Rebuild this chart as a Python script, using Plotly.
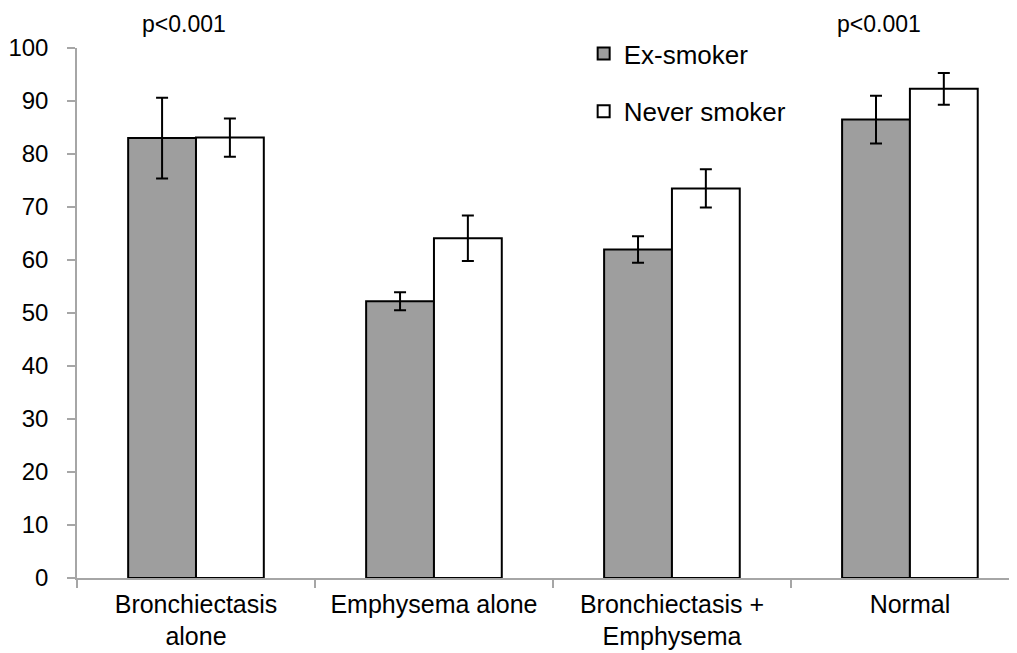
import plotly.graph_objects as go

categories = ["Bronchiectasis<br>alone", "Emphysema alone", "Bronchiectasis +<br>Emphysema", "Normal"]
ex_smoker = [83.0, 52.2, 62.0, 86.5]
ex_err = [7.6, 1.7, 2.5, 4.5]
never_smoker = [83.1, 64.1, 73.5, 92.3]
never_err = [3.6, 4.3, 3.6, 3.0]
p_labels = ["p<0.001", "p<0.001"]

FONT = "Liberation Sans, Arial, sans-serif"

fig = go.Figure()
fig.add_trace(go.Bar(
    name="Ex-smoker", x=categories, y=ex_smoker,
    marker=dict(color="#9e9e9e", line=dict(color="black", width=2)),
    error_y=dict(type="data", array=ex_err, color="black", thickness=2, width=6),
    legendgroup="a",
))
fig.add_trace(go.Bar(
    name="Never smoker", x=categories, y=never_smoker,
    marker=dict(color="white", line=dict(color="black", width=2)),
    error_y=dict(type="data", array=never_err, color="black", thickness=2, width=6),
    legendgroup="b",
))

fig.add_annotation(x=-0.05, y=1.045, xref="x", yref="paper", text=p_labels[0],
                   showarrow=False, font=dict(size=23, color="black", family=FONT), yanchor="middle")
fig.add_annotation(x=2.87, y=1.045, xref="x", yref="paper", text=p_labels[1],
                   showarrow=False, font=dict(size=23, color="black", family=FONT), yanchor="middle")

# body has an 8px margin in the page, so offsets are compensated
fig.update_layout(
    width=1017, height=653,
    margin=dict(l=69, r=8, t=40, b=83),
    paper_bgcolor="white", plot_bgcolor="white",
    barmode="group", bargap=0.43, bargroupgap=0,
    font=dict(family=FONT, size=24, color="black"),
    legend=dict(x=0.539, y=1.034, xanchor="left", yanchor="top",
                font=dict(size=26, family=FONT), tracegroupgap=21,
                itemwidth=30, bgcolor="rgba(0,0,0,0)"),
    xaxis=dict(range=[-0.5, 3.45], showline=True, linecolor="#a6a6a6", linewidth=1.5,
               ticks="outside", tickson="boundaries", ticklen=8, tickcolor="#a6a6a6",
               tickwidth=1.5, showgrid=False, ticklabelstandoff=3, automargin=False,
               tickfont=dict(size=25, family=FONT)),
    yaxis=dict(range=[0, 100], dtick=10, showline=True, linecolor="#a6a6a6", linewidth=1.5,
               ticks="outside", ticklen=8, tickcolor="#a6a6a6", tickwidth=1.5,
               ticklabelstandoff=14, automargin=False,
               showgrid=False, zeroline=False, tickfont=dict(size=24, family=FONT)),
)

fig.write_html("out.html")
